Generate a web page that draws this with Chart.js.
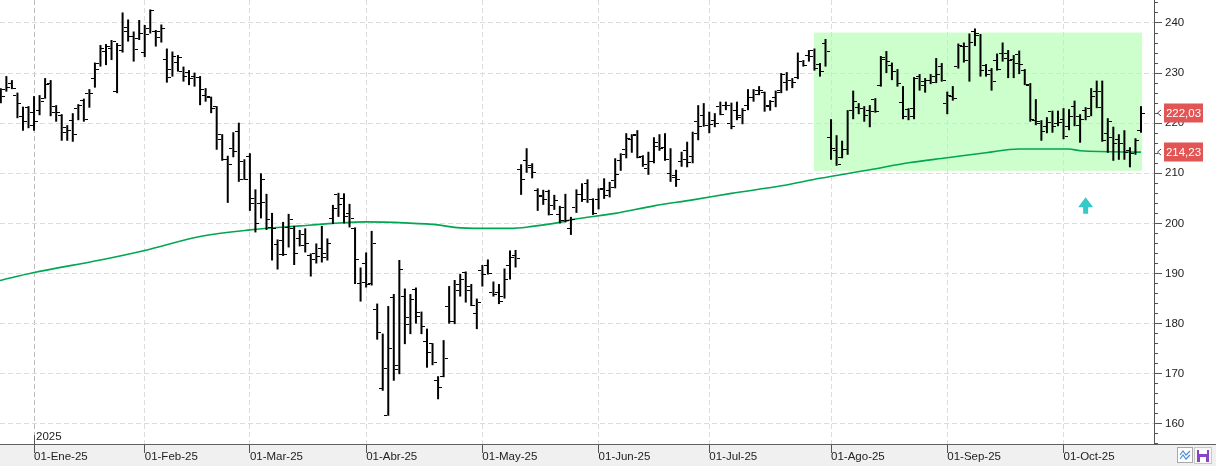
<!DOCTYPE html>
<html>
<head>
<meta charset="utf-8">
<script src="https://cdn.jsdelivr.net/npm/chart.js@4.4.0/dist/chart.umd.min.js"></script>
<style>
  html, body { margin: 0; padding: 0; background: #fff; }
  #wrap { width: 1216px; height: 466px; position: relative; }
</style>
</head>
<body>
<div id="wrap"><canvas id="myChart"></canvas></div>
<script>
// daily bars, index 0 = first bar on the left (late Dec 24), last one = 21-Oct-25
const opens = [
  225.2, 226.8, 228.0, 225.6, 221.3, 223.2, 222.1, 222.6, 225.0, 228.0,
  223.3, 221.6, 218.1, 220.6, 223.0, 224.6, 226.0, 229.0, 232.0, 234.3,
  235.0, 226.3, 234.5, 239.1, 237.4, 236.9, 234.1, 238.9, 238.3, 238.4,
  232.8, 230.8, 232.1, 230.3, 230.1, 229.4, 229.2, 225.6, 225.2, 223.3,
  217.7, 212.8, 215.0, 218.3, 212.3, 213.3, 203.9, 203.9, 204.1, 199.2,
  195.7, 196.6, 199.2, 199.0, 197.0, 195.5, 193.5, 194.0, 195.0, 194.0,
  201.0, 205.7, 205.0, 202.0, 199.0, 188.0, 192.0, 188.0, 182.8, 167.0,
  161.7, 185.2, 171.7, 185.4, 179.9, 186.8, 181.4, 176.4, 176.0, 168.7,
  169.5, 183.4, 180.4, 187.9, 190.2, 187.5, 182.0, 190.6, 191.5, 186.2,
  186.2, 185.4, 191.5, 193.5, 210.8, 212.5, 211.5, 206.5, 205.6, 206.3,
  203.5, 201.7, 203.2, 199.0, 203.2, 205.8, 208.0, 204.8, 204.8, 207.0,
  206.5, 208.5, 212.6, 214.8, 216.8, 217.6, 213.4, 211.0, 212.3, 215.3,
  215.2, 209.9, 209.5, 212.3, 214.6, 213.3, 220.3, 221.5, 219.6, 220.5,
  223.4, 223.5, 220.0, 222.6, 221.6, 223.6, 225.2, 226.5, 226.1, 223.5,
  225.2, 226.1, 228.1, 228.6, 229.2, 232.3, 233.6, 234.5, 231.8, 235.9,
  217.2, 214.6, 213.2, 214.7, 222.6, 223.2, 223.0, 222.6, 224.8, 227.6,
  232.7, 231.6, 230.3, 224.1, 222.8, 222.9, 229.3, 227.6, 228.6, 229.3,
  231.3, 224.0, 225.4, 231.3, 235.4, 235.3, 238.3, 237.6, 231.6, 230.6,
  232.5, 233.9, 233.9, 232.7, 233.8, 230.6, 227.6, 220.6, 220.3, 219.3,
  222.3, 220.0, 220.8, 219.3, 223.4, 221.3, 222.6, 223.0, 226.3, 226.3,
  218.0, 217.2, 216.8, 215.9, 214.6, 213.9, 218.5
];
const highs = [
  227.0, 229.4, 228.6, 226.1, 223.3, 223.4, 225.4, 225.6, 229.0, 228.6,
  223.6, 221.8, 219.6, 222.0, 223.8, 224.9, 226.8, 232.1, 235.6, 235.8,
  236.6, 236.0, 242.1, 240.7, 238.3, 240.6, 239.6, 242.7, 238.6, 239.7,
  234.9, 234.3, 233.6, 231.3, 230.6, 230.1, 229.4, 227.0, 225.3, 223.4,
  217.8, 213.5, 218.2, 220.1, 212.8, 214.0, 206.8, 210.0, 205.9, 202.1,
  196.8, 200.3, 201.9, 199.5, 198.7, 199.0, 194.0, 196.0, 199.5, 197.0,
  203.7, 206.1, 206.0, 203.9, 199.2, 191.2, 194.2, 198.5, 184.0, 178.0,
  183.5, 185.9, 192.7, 187.0, 185.9, 187.2, 182.4, 179.0, 176.1, 169.5,
  176.7, 187.5, 188.7, 189.9, 190.4, 187.9, 185.0, 191.7, 192.8, 188.4,
  187.9, 191.0, 194.6, 194.7, 211.8, 215.0, 212.0, 207.0, 206.7, 206.7,
  205.7, 203.5, 205.9, 201.3, 206.8, 208.0, 208.8, 205.0, 207.0, 209.0,
  208.3, 213.0, 214.0, 218.0, 217.8, 218.6, 213.6, 214.3, 217.2, 217.8,
  218.0, 215.0, 210.7, 214.3, 216.3, 218.3, 223.6, 224.0, 222.3, 222.0,
  224.3, 224.3, 224.1, 224.3, 223.0, 226.8, 226.8, 227.4, 226.3, 224.6,
  226.5, 230.0, 230.2, 229.0, 234.1, 232.6, 234.6, 234.9, 232.0, 236.8,
  220.8, 217.6, 216.5, 222.6, 226.5, 224.0, 223.4, 223.6, 225.0, 233.4,
  234.4, 232.1, 230.8, 227.4, 223.0, 229.2, 229.8, 229.0, 229.8, 233.0,
  232.0, 226.3, 227.4, 235.9, 236.1, 237.9, 238.9, 237.8, 231.8, 231.0,
  233.9, 236.1, 234.6, 233.6, 234.5, 230.8, 228.0, 224.8, 220.6, 221.2,
  222.5, 222.5, 223.0, 222.8, 224.5, 221.8, 223.2, 227.0, 228.5, 228.5,
  221.0, 219.3, 217.8, 218.6, 215.2, 217.0, 223.4
];
const lows = [
  224.0, 226.3, 226.8, 221.0, 218.5, 219.0, 218.5, 221.6, 224.9, 221.4,
  220.3, 216.5, 216.5, 216.3, 220.6, 220.3, 223.1, 227.1, 231.3, 231.6,
  232.6, 226.0, 234.1, 236.3, 232.3, 236.6, 233.2, 237.9, 235.3, 236.1,
  228.1, 229.3, 230.3, 228.3, 227.6, 227.3, 223.6, 224.3, 222.0, 214.7,
  212.5, 204.1, 213.2, 208.3, 208.7, 202.5, 198.2, 201.0, 198.7, 192.6,
  190.8, 193.5, 195.2, 191.7, 195.4, 194.2, 189.4, 192.0, 192.2, 192.6,
  199.9, 201.3, 200.0, 199.2, 187.9, 184.4, 187.2, 187.6, 176.8, 166.6,
  161.6, 168.6, 169.9, 175.9, 177.9, 180.0, 177.9, 171.2, 171.7, 164.9,
  169.3, 180.0, 179.9, 185.4, 184.2, 183.5, 178.9, 187.4, 189.8, 185.4,
  183.9, 185.0, 188.8, 191.2, 205.7, 210.1, 209.0, 202.5, 203.7, 201.6,
  202.7, 200.0, 200.2, 197.7, 202.1, 204.3, 204.1, 201.7, 202.8, 204.9,
  205.2, 207.0, 210.5, 213.0, 214.1, 213.0, 211.3, 209.7, 212.0, 214.5,
  212.5, 208.3, 207.3, 211.3, 211.2, 212.0, 216.6, 219.3, 218.0, 219.2,
  221.6, 222.6, 218.8, 220.6, 219.8, 222.6, 224.3, 225.6, 222.3, 222.5,
  223.2, 226.0, 226.5, 227.0, 228.8, 231.3, 232.3, 230.5, 229.3, 231.3,
  212.7, 211.5, 213.0, 213.7, 220.8, 221.8, 220.3, 219.2, 222.1, 227.3,
  230.0, 228.6, 227.3, 220.8, 220.6, 220.8, 226.5, 226.1, 227.8, 228.0,
  228.3, 221.8, 224.5, 230.9, 232.1, 228.3, 235.4, 229.3, 229.3, 226.5,
  230.5, 232.3, 229.0, 229.0, 229.8, 227.6, 220.3, 219.6, 216.5, 218.0,
  218.1, 219.4, 216.8, 218.6, 219.4, 216.1, 220.6, 221.4, 223.0, 216.3,
  214.1, 212.5, 212.7, 212.7, 211.2, 213.7, 218.1
];
const closes = [
  225.4, 227.2, 227.0, 224.0, 220.3, 219.6, 220.3, 224.3, 227.8, 222.1,
  222.2, 219.1, 218.5, 217.8, 223.6, 220.8, 225.9, 230.7, 235.0, 235.4,
  236.3, 235.6, 238.3, 237.4, 234.7, 237.9, 237.8, 242.4, 237.1, 238.9,
  229.2, 233.4, 233.2, 229.3, 229.0, 229.2, 226.8, 225.4, 223.0, 216.7,
  212.8, 211.7, 214.3, 208.7, 208.8, 205.0, 200.0, 208.7, 200.7, 199.0,
  193.7, 193.7, 200.8, 193.9, 197.7, 196.0, 192.7, 193.4, 193.2, 196.0,
  203.0, 203.7, 201.3, 201.0, 192.7, 188.2, 187.9, 196.0, 178.3, 171.1,
  175.1, 170.9, 190.7, 181.2, 184.8, 182.2, 179.5, 174.2, 172.2, 167.3,
  173.1, 180.4, 186.7, 188.9, 186.6, 183.7, 184.2, 189.9, 190.0, 185.9,
  184.5, 188.8, 193.2, 193.0, 208.7, 211.2, 210.2, 205.3, 204.7, 201.7,
  204.5, 200.6, 200.5, 200.8, 205.8, 204.7, 204.8, 202.0, 206.7, 205.5,
  207.2, 209.7, 213.8, 217.0, 217.8, 213.2, 211.8, 212.3, 216.1, 215.0,
  212.7, 209.2, 208.7, 212.8, 212.1, 218.0, 219.3, 219.6, 219.8, 220.0,
  221.8, 223.6, 219.4, 221.2, 222.5, 225.2, 225.8, 226.6, 223.4, 224.3,
  226.5, 229.8, 228.6, 228.2, 232.3, 231.6, 233.3, 231.0, 230.3, 234.4,
  214.9, 211.8, 214.7, 222.5, 224.3, 223.0, 221.6, 222.3, 222.3, 233.1,
  232.3, 230.3, 228.0, 221.3, 221.3, 229.0, 228.3, 228.6, 228.1, 229.8,
  228.6, 225.6, 225.0, 235.6, 232.5, 236.1, 237.9, 230.6, 229.8, 228.3,
  230.8, 232.9, 232.6, 231.9, 231.8, 227.8, 220.8, 220.0, 218.3, 220.1,
  219.4, 220.1, 217.3, 221.3, 219.6, 220.8, 221.4, 225.3, 223.2, 216.5,
  220.3, 215.9, 215.9, 214.1, 214.0, 216.6, 222.03
];

// month ticks (bar index of first session of each month)
const tickIdx = [6, 26, 45, 66, 87, 108, 128, 150, 171, 192];
const tickLabels = ['01-Ene-25', '01-Feb-25', '01-Mar-25', '01-Abr-25', '01-May-25',
                    '01-Jun-25', '01-Jul-25', '01-Ago-25', '01-Sep-25', '01-Oct-25'];

// moving average
const maIdx = [-0.15, 6, 18, 26, 36, 45, 54, 60, 66, 73, 79, 82, 87, 92, 96, 101, 103,
               111, 118, 125, 132, 141, 148, 157, 164, 171, 178, 184, 193, 195, 206];
const maVal = [188.6, 190.2, 192.7, 194.6, 197.4, 198.7, 199.5, 200.0, 200.3, 200.1, 199.7,
               199.2, 199.0, 199.0, 199.4, 200.2, 200.7, 202.0, 203.5, 204.7, 206.0, 207.5,
               209.0, 210.7, 212.1, 213.1, 214.1, 214.85, 214.85, 214.5, 214.23];

// highlighted range and signal arrow
const boxIdx = [146.9, 206.2];
const boxPrice = [210.5, 238.1];
const arrowIdx = 196;
const arrowTip = 205.2;

const yMin = 155.97, yMax = 244.59;

function tickImage(side) {
  const c = document.createElement('canvas');
  c.width = 8; c.height = 1;
  const g = c.getContext('2d');
  g.fillStyle = '#000';
  g.fillRect(side < 0 ? 0 : 5, 0, 3, 1);
  return c;
}
const openTick = tickImage(-1);
const closeTick = tickImage(1);

const fmt = v => v.toFixed(2).replace('.', ',');

const decor = {
  id: 'decor',
  beforeDraw(chart) {
    const {ctx, chartArea: a, scales: {x, y}} = chart;
    ctx.save();
    ctx.fillStyle = '#f0f0f0';
    ctx.fillRect(0, a.bottom, chart.width, chart.height - a.bottom);
    ctx.strokeStyle = '#606060';
    ctx.lineWidth = 1;
    ctx.beginPath();
    ctx.moveTo(0, a.bottom + 0.5);
    ctx.lineTo(chart.width, a.bottom + 0.5);
    ctx.stroke();
    // highlighted range
    const x0 = x.getPixelForValue(boxIdx[0]), x1 = x.getPixelForValue(boxIdx[1]);
    const y0 = y.getPixelForValue(boxPrice[1]), y1 = y.getPixelForValue(boxPrice[0]);
    ctx.fillStyle = '#ccffcc';
    ctx.fillRect(x0, y0, x1 - x0, y1 - y0);
    ctx.restore();
  },
  beforeDatasetsDraw(chart) {
    chart.ctx.imageSmoothingEnabled = false;
  },
  afterDatasetsDraw(chart) {
    chart.ctx.imageSmoothingEnabled = true;
  },
  afterDraw(chart) {
    const {ctx, chartArea: a, scales: {x, y}} = chart;
    ctx.save();
    // year mark
    const xj = Math.round(x.getPixelForValue(tickIdx[0])) + 0.5;
    ctx.strokeStyle = '#555';
    ctx.lineWidth = 1;
    ctx.beginPath();
    ctx.moveTo(xj, a.bottom);
    ctx.lineTo(xj, a.bottom - 9);
    ctx.stroke();
    ctx.fillStyle = '#222';
    ctx.font = "11.5px 'Liberation Sans', Arial, sans-serif";
    ctx.textBaseline = 'middle';
    ctx.textAlign = 'left';
    ctx.fillText('2025', xj + 1.5, a.bottom - 7.5);

    // signal arrow
    const ax = x.getPixelForValue(arrowIdx), ay = y.getPixelForValue(arrowTip);
    ctx.fillStyle = '#36c9c9';
    ctx.beginPath();
    ctx.moveTo(ax, ay);
    ctx.lineTo(ax + 7.5, ay + 10);
    ctx.lineTo(ax + 2.5, ay + 10);
    ctx.lineTo(ax + 2.5, ay + 16.5);
    ctx.lineTo(ax - 2.5, ay + 16.5);
    ctx.lineTo(ax - 2.5, ay + 10);
    ctx.lineTo(ax - 7.5, ay + 10);
    ctx.closePath();
    ctx.fill();

    // last value labels
    [closes[closes.length - 1], maVal[maVal.length - 1]].forEach(v => {
      const py = y.getPixelForValue(v);
      ctx.fillStyle = '#e25555';
      ctx.fillRect(y.left + 10, Math.round(py) - 9.5, 39, 19);
      ctx.fillStyle = '#fff';
      ctx.textAlign = 'center';
      ctx.fillText(fmt(v), y.left + 29.5, py + 0.5);
      ctx.strokeStyle = '#444';
      ctx.beginPath();
      ctx.moveTo(y.left + 7, py - 3);
      ctx.lineTo(y.left + 3.5, py);
      ctx.lineTo(y.left + 7, py + 3);
      ctx.stroke();
    });

    // small buttons bottom right
    const bx = chart.width - 39, by = a.bottom + 3;
    ctx.fillStyle = '#fff';
    ctx.fillRect(bx, by, 16, 16);
    ctx.strokeStyle = '#a8a8a8';
    ctx.strokeRect(bx + 0.5, by + 0.5, 15, 15);
    ctx.strokeStyle = '#4d8fd6';
    ctx.lineWidth = 1.2;
    ctx.beginPath();
    ctx.moveTo(bx + 3, by + 8); ctx.lineTo(bx + 6, by + 4); ctx.lineTo(bx + 9, by + 8); ctx.lineTo(bx + 13, by + 4);
    ctx.moveTo(bx + 3, by + 12); ctx.lineTo(bx + 6, by + 8); ctx.lineTo(bx + 9, by + 12); ctx.lineTo(bx + 13, by + 8);
    ctx.stroke();
    const fx = chart.width - 22;
    ctx.fillStyle = '#f7f7f7';
    ctx.fillRect(fx, by, 18, 17);
    ctx.strokeStyle = '#c8c8c8';
    ctx.lineWidth = 1;
    ctx.strokeRect(fx + 0.5, by + 0.5, 17, 16);
    ctx.fillStyle = '#8a45c6';
    ctx.fillRect(fx + 3, by + 3, 12, 12);
    ctx.fillStyle = '#fff';
    ctx.fillRect(fx + 5, by + 3, 8, 4);
    ctx.fillRect(fx + 6, by + 10, 6, 5);
    ctx.restore();
  }
};

const ctx = document.getElementById('myChart').getContext('2d');
const myChart = new Chart(ctx, {
  type: 'bar',
  data: {
    datasets: [
      {
        type: 'bar',
        label: 'Rango',
        data: lows.map((l, i) => ({x: i, y: [l, highs[i]]})),
        backgroundColor: '#000',
        borderWidth: 0,
        barThickness: 2,
        inflateAmount: 0,
        order: 0,
      },
      {
        type: 'scatter',
        label: 'Apertura',
        data: opens.map((v, i) => ({x: i, y: v})),
        pointStyle: openTick,
        pointRadius: 1,
        order: 0,
      },
      {
        type: 'scatter',
        label: 'Cierre',
        data: closes.map((v, i) => ({x: i, y: v})),
        pointStyle: closeTick,
        pointRadius: 1,
        order: 0,
      },
      {
        type: 'line',
        label: 'Media',
        data: maIdx.map((v, i) => ({x: v, y: maVal[i]})),
        borderColor: '#00a651',
        borderWidth: 1.6,
        pointRadius: 0,
        cubicInterpolationMode: 'monotone',
        order: 1,
      },
    ]
  },
  plugins: [decor],
  options: {
    responsive: true,
    maintainAspectRatio: false,
    animation: false,
    events: [],
    layout: { padding: 0, autoPadding: false },
    plugins: {
      legend: { display: false },
      tooltip: { enabled: false },
    },
    scales: {
      x: {
        type: 'linear',
        min: -0.15,
        max: 208.35,
        offset: false,
        afterBuildTicks: s => { s.ticks = tickIdx.map(v => ({value: v})); },
        afterFit: s => { s.height = 22; s.paddingLeft = 0; s.paddingRight = 0; },
        grid: {
          color: c => c.index === 0 ? '#bdbdbd' : '#dcdcdc',
          tickColor: '#555',
          tickLength: 9,
          offset: false,
        },
        border: { display: true, color: '#606060', dash: [5, 3] },
        ticks: {
          align: 'start',
          padding: -3,
          autoSkip: false,
          maxRotation: 0,
          minRotation: 0,
          color: '#222',
          font: { size: 11.5, family: "'Liberation Sans', Arial, sans-serif" },
          callback: (v, i) => tickLabels[i],
        },
      },
      y2: {
        type: 'linear',
        position: 'right',
        weight: -1,
        min: yMin,
        max: yMax,
        afterFit: s => { s.width = 0; s.paddingTop = 0; s.paddingBottom = 0; },
        grid: { drawOnChartArea: false, tickLength: 4, tickColor: '#555' },
        border: { display: false },
        ticks: { display: false, stepSize: 2, includeBounds: false },
      },
      y: {
        type: 'linear',
        position: 'right',
        min: yMin,
        max: yMax,
        afterFit: s => { s.width = 62; s.paddingTop = 0; s.paddingBottom = 0; },
        grid: { color: '#dcdcdc', tickColor: '#555', tickLength: 8 },
        border: { display: true, color: '#555', dash: [5, 3] },
        ticks: {
          stepSize: 10,
          includeBounds: false,
          padding: 3,
          color: '#222',
          font: { size: 11.5, family: "'Liberation Sans', Arial, sans-serif" },
        },
      },
    }
  }
});
</script>
</body>
</html>
